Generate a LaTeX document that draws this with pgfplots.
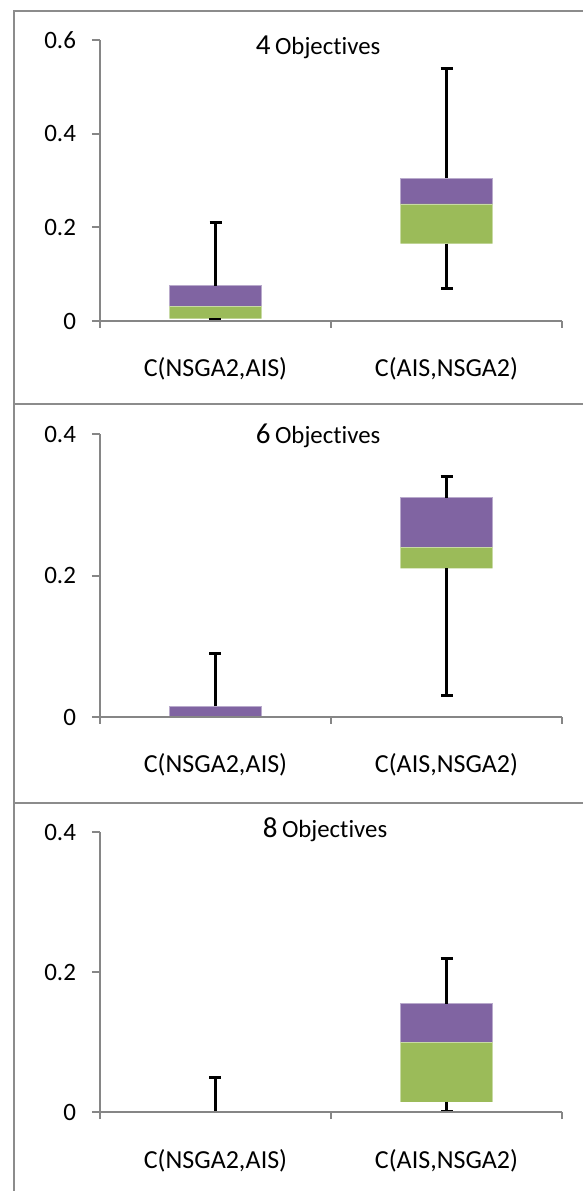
\documentclass[border=0pt]{standalone}
\usepackage{fontspec}
\setmainfont[Ligatures=NoCommon]{Carlito}
\usepackage{pgfplots}
\pgfplotsset{compat=1.18}
\definecolor{boxpurple}{HTML}{8064A2}
\definecolor{boxgreen}{HTML}{9BBB59}
\definecolor{framegray}{HTML}{8C8C8C}
\definecolor{axgray}{HTML}{868686}

\pgfplotsset{
  boxaxis/.style={
    scale only axis, width=231pt,
    xmin=-0.5, xmax=1.5, ymin=0,
    axis x line=bottom, axis y line=left,
    axis line style={-, draw=axgray, line width=1pt},
    xtick={0,1}, xticklabels={{C(NSGA2,AIS)},{C(AIS,NSGA2)}},
    xtick style={draw=none},
    minor xtick={-0.5,0.5,1.5},
    minor x tick style={draw=axgray, line width=1pt},
    ytick style={draw=axgray, line width=1pt},
    tick align=outside,
    major tick length=4pt, minor tick length=3.5pt,
    xticklabel style={font=\fontsize{13}{15}\selectfont, anchor=base, yshift=-24pt},
    yticklabel style={font=\fontsize{12.5}{15}\selectfont, xshift=-4.5pt},
    axis on top,
    clip=false,
  },
  purplebar/.style={ybar, bar width=46.3pt, bar shift=0pt, fill=boxpurple, draw=boxpurple!55!white, line width=0.4pt},
  greenbar/.style={ybar, bar width=46.3pt, bar shift=0pt, fill=boxgreen, draw=boxgreen!55!white, line width=0.4pt},
  whitebar/.style={ybar, bar width=47.5pt, bar shift=0pt, fill=white, draw=none},
  upwhisk/.style={forget plot, draw=none, mark=none,
    error bars/.cd, y dir=plus, y explicit, error mark=|,
    error bar style={draw=black, line width=1.5pt},
    error mark options={draw=black, line width=1.5pt, mark size=3pt}},
  lowwhisk/.style={forget plot, draw=none, mark=none,
    error bars/.cd, y dir=minus, y explicit, error mark=|,
    error bar style={draw=black, line width=1.5pt},
    error mark options={draw=black, line width=1.5pt, mark size=3pt}},
}

\newcommand{\ttl}[1]{{\fontsize{14.5}{16}\selectfont #1} {\fontsize{12.4}{15}\selectfont Objectives}}

\begin{document}
\begin{tikzpicture}
\useasboundingbox (0,0) rectangle (291.5pt,595.5pt);
% chart frames
\draw[framegray, line width=1pt] (7pt,0) -- (7pt,590pt) -- (292pt,590pt);
\draw[framegray, line width=1pt] (7pt,393.5pt) -- (292pt,393.5pt);
\draw[framegray, line width=1pt] (7pt,194pt) -- (292pt,194pt);

% ---------------- 4 objectives
\begin{axis}[boxaxis, at={(50pt,435pt)}, anchor=south west, height=140.5pt,
  ymax=0.6, ytick={0,0.2,0.4,0.6}, yticklabels={0,0.2,0.4,0.6}]
\addplot[purplebar] coordinates {(0,0.075) (1,0.305)};
\addplot[greenbar] coordinates {(0,0.031) (1,0.250)};
\addplot[whitebar] coordinates {(0,0.005) (1,0.165)};
\addplot[upwhisk] coordinates {(0,0.075) +- (0,0.135) (1,0.305) +- (0,0.235)};
\addplot[lowwhisk] coordinates {(0,0.005) +- (0,0.002) (1,0.165) +- (0,0.095)};
\node[anchor=base] at (rel axis cs:0.472,0.947) {\ttl{4}};
\end{axis}

% ---------------- 6 objectives
\begin{axis}[boxaxis, at={(50pt,237pt)}, anchor=south west, height=141.5pt,
  ymax=0.4, ytick={0,0.2,0.4}, yticklabels={0,0.2,0.4}]
\addplot[purplebar] coordinates {(0,0.015) (1,0.310)};
\addplot[greenbar] coordinates {(0,0) (1,0.240)};
\addplot[whitebar] coordinates {(0,0) (1,0.210)};
\addplot[upwhisk] coordinates {(0,0.015) +- (0,0.075) (1,0.310) +- (0,0.030)};
\addplot[lowwhisk] coordinates {(1,0.210) +- (0,0.180)};
\node[anchor=base] at (rel axis cs:0.472,0.968) {\ttl{6}};
\end{axis}

% ---------------- 8 objectives
\begin{axis}[boxaxis, at={(50pt,39.5pt)}, anchor=south west, height=140pt,
  ymax=0.4, ytick={0,0.2,0.4}, yticklabels={0,0.2,0.4}]
\addplot[purplebar] coordinates {(1,0.155)};
\addplot[greenbar] coordinates {(1,0.100)};
\addplot[whitebar] coordinates {(1,0.015)};
\addplot[upwhisk] coordinates {(0,0) +- (0,0.050) (1,0.155) +- (0,0.065)};
\addplot[lowwhisk] coordinates {(1,0.015) +- (0,0.014)};
\node[anchor=base] at (rel axis cs:0.487,0.979) {\ttl{8}};
\end{axis}
\end{tikzpicture}
\end{document}
